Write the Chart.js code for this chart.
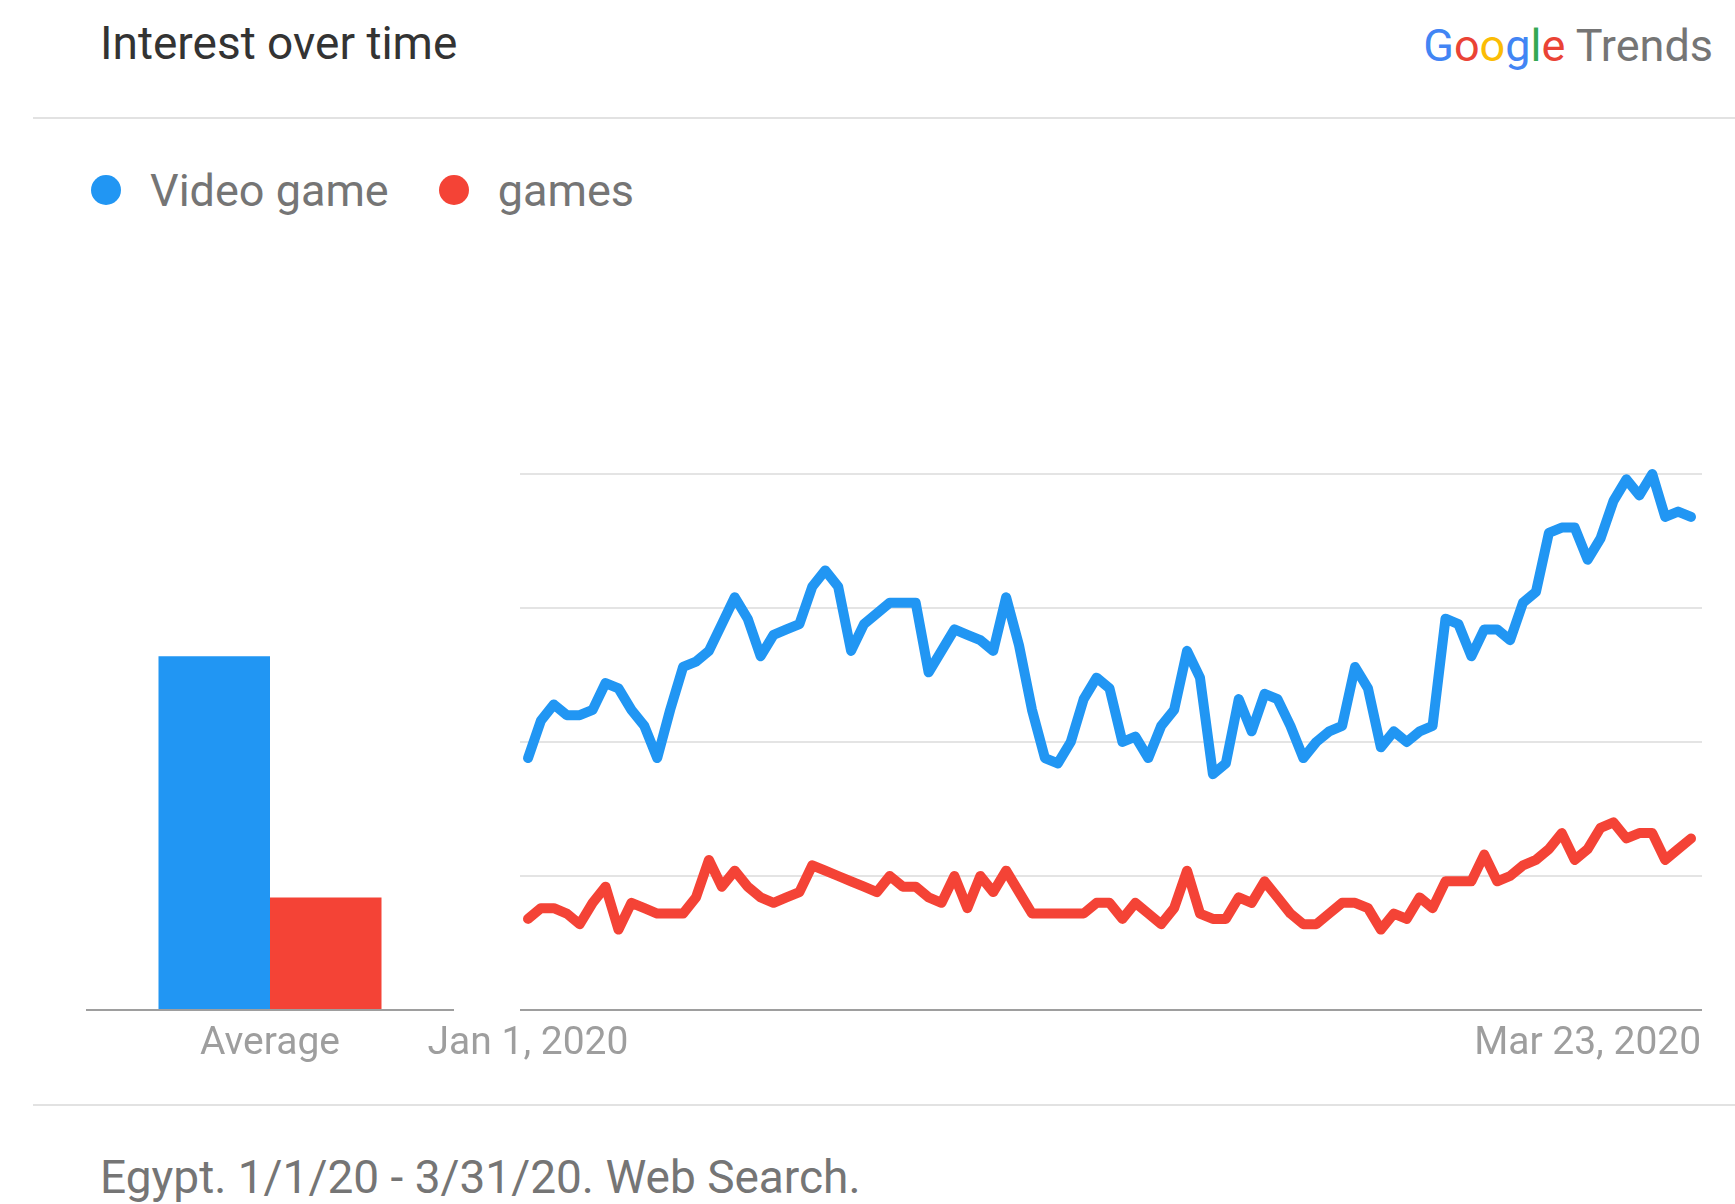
<!DOCTYPE html>
<html>
<head>
<meta charset="utf-8">
<script src="https://cdn.jsdelivr.net/npm/chart.js@4.4.1/dist/chart.umd.min.js"></script>
<style>
  body { margin: 0; background: #fff; font-family: Roboto, "Noto Sans", sans-serif; }
  #page { position: relative; width: 1735px; height: 1204px; overflow: hidden; background: #fff; }
  .txt { position: absolute; line-height: 1; white-space: nowrap; }
  .rule { position: absolute; left: 33px; right: 0; height: 2px; background: #e2e2e2; }
  .dot { display: inline-block; width: 30px; height: 30px; border-radius: 50%; vertical-align: middle; position: relative; top: -4px; }
  canvas { position: absolute; }
</style>
</head>
<body>
<div id="page">
  <div class="txt" style="left:100px; top:20px; font-size:46px; color:#333;">Interest over time</div>
  <div class="txt" style="right:22px; top:23px; font-size:45px;">
    <span style="color:#4285f4">G</span><span style="color:#ea4335">o</span><span style="color:#fbbc05">o</span><span style="color:#4285f4">g</span><span style="color:#34a853">l</span><span style="color:#ea4335">e</span>
    <span style="color:#757575">Trends</span>
  </div>
  <div class="rule" style="top:117px;"></div>

  <div class="txt" id="legend" style="left:91px; top:168px; font-size:45px; color:#757575;"></div>

  <canvas id="avgChart" width="480" height="700" style="left:0; top:400px;"></canvas>
  <canvas id="trendChart" width="1355" height="700" style="left:380px; top:400px;"></canvas>

  <div class="rule" style="top:1104px;"></div>
  <div class="txt" style="left:100px; top:1154px; font-size:46px; color:#757575;">Egypt. 1/1/20 - 3/31/20. Web Search.</div>
</div>

<script>
// search terms and their colours
var terms = ['Video game', 'games'];
var colors = ['#2196f3', '#f44336'];

// average interest over the period
var averages = [66, 21];

// daily interest, Jan 1 - Mar 31 2020
var videoGame = [47, 54, 57, 55, 55, 56, 61, 60, 56, 53,
                 47, 56, 64, 65, 67, 72, 77, 73, 66, 70,
                 71, 72, 79, 82, 79, 67, 72, 74, 76, 76,
                 76, 63, 67, 71, 70, 69, 67, 77, 68, 56,
                 47, 46, 50, 58, 62, 60, 50, 51, 47, 53,
                 56, 67, 62, 44, 46, 58, 52, 59, 58, 53,
                 47, 50, 52, 53, 64, 60, 49, 52, 50, 52,
                 53, 73, 72, 66, 71, 71, 69, 76, 78, 89,
                 90, 90, 84, 88, 95, 99, 96, 100, 92, 93,
                 92];
var games = [17, 19, 19, 18, 16, 20, 23, 15, 20, 19,
             18, 18, 18, 21, 28, 23, 26, 23, 21, 20,
             21, 22, 27, 26, 25, 24, 23, 22, 25, 23,
             23, 21, 20, 25, 19, 25, 22, 26, 22, 18,
             18, 18, 18, 18, 20, 20, 17, 20, 18, 16,
             19, 26, 18, 17, 17, 21, 20, 24, 21, 18,
             16, 16, 18, 20, 20, 19, 15, 18, 17, 21,
             19, 24, 24, 24, 29, 24, 25, 27, 28, 30,
             33, 28, 30, 34, 35, 32, 33, 33, 28, 30,
             32];

// x-axis labels (day index -> text)
var tickDays = [0, 82];
var tickLabels = ['Jan 1, 2020', 'Mar 23, 2020'];

var gridColor = '#e4e4e4';
var baseColor = '#9e9e9e';
var tickColor = '#9e9e9e';
var tickFont = { family: 'Roboto', size: 39 };

// legend
var legend = document.getElementById('legend');
legend.innerHTML = terms.map(function (t, i) {
  return '<span class="dot" style="background:' + colors[i] + '"></span>' +
         '<span style="margin:0 ' + (i === 0 ? 50 : 0) + 'px 0 29px">' + t + '</span>';
}).join('');

// bar chart of averages
new Chart(document.getElementById('avgChart'), {
  type: 'bar',
  data: {
    labels: ['Average'],
    datasets: terms.map(function (t, i) {
      return { label: t, data: [averages[i]], backgroundColor: colors[i],
               categoryPercentage: 0.606, barPercentage: 1 };
    })
  },
  options: {
    responsive: false,
    animation: false,
    layout: { padding: { left: 86, right: 26, top: 74, bottom: 30 } },
    plugins: { legend: { display: false }, tooltip: { enabled: false } },
    scales: {
      x: {
        grid: { display: false },
        border: { display: false },
        ticks: { color: tickColor, font: tickFont, padding: 3 },
        afterFit: function (s) { s.height = 60; }
      },
      y: {
        min: 0, max: 100,
        ticks: { display: false, stepSize: 25 },
        border: { display: false },
        grid: {
          drawTicks: false, lineWidth: 2,
          color: function (c) { return c.tick.value === 0 ? baseColor : 'rgba(0,0,0,0)'; }
        },
        afterFit: function (s) { s.width = 0; }
      }
    }
  }
});

// line chart of daily interest
var series = [videoGame, games];
new Chart(document.getElementById('trendChart'), {
  type: 'line',
  data: {
    datasets: terms.map(function (t, i) {
      return {
        label: t,
        data: series[i].map(function (v, d) { return { x: d, y: v }; }),
        borderColor: colors[i],
        borderWidth: 10,
        borderJoinStyle: 'round',
        borderCapStyle: 'round',
        pointRadius: 0,
        tension: 0,
        clip: false
      };
    })
  },
  options: {
    responsive: false,
    animation: false,
    layout: { padding: { left: 140, right: 33, top: 74, bottom: 30 } },
    plugins: { legend: { display: false }, tooltip: { enabled: false } },
    scales: {
      x: {
        type: 'linear',
        min: -0.62, max: 90.85,
        grid: { display: false },
        border: { display: false },
        afterBuildTicks: function (s) {
          s.ticks = tickDays.map(function (d) { return { value: d }; });
        },
        ticks: {
          color: tickColor, font: tickFont, padding: 3, maxRotation: 0,
          callback: function (v) { return tickLabels[tickDays.indexOf(v)]; }
        },
        afterFit: function (s) { s.height = 60; }
      },
      y: {
        min: 0, max: 100,
        ticks: { display: false, stepSize: 25 },
        border: { display: false },
        grid: {
          drawTicks: false, lineWidth: 2,
          color: function (c) { return c.tick.value === 0 ? baseColor : gridColor; }
        },
        afterFit: function (s) { s.width = 0; }
      }
    }
  }
});
</script>
</body>
</html>
